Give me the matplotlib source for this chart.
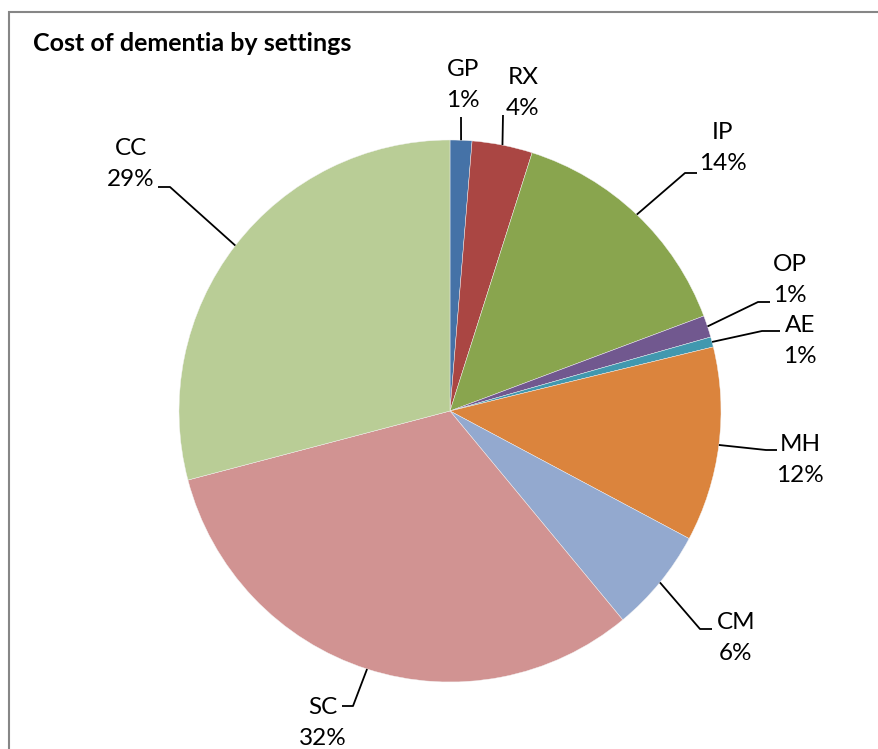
import matplotlib
matplotlib.use("Agg")
import matplotlib.pyplot as plt
import numpy as np
from matplotlib.patches import Rectangle

plt.rcParams['font.family'] = ['Lato', 'DejaVu Sans']

# ---- data ----
categories = ["GP", "RX", "IP", "OP", "AE", "MH", "CM", "SC", "CC"]
shares = [1.3, 3.6, 14.4, 1.3, 0.6, 11.6, 6.2, 31.9, 29.1]
colors = ["#4572A7", "#AA4643", "#89A54E", "#71588F", "#4198AF",
          "#DB843D", "#93A9CF", "#D19392", "#B9CD96"]
title = "Cost of dementia by settings"

# ---- label layout (pixel positions in the 879x749 image; name baselines) ----
name_pos = [(463, 76), (523, 84), (723, 139), (790, 271), (800, 332),
            (800, 451), (736, 629), (323, 714), (131, 155)]
line_gap = 31
elbow_pos = [(461, 117), (503, 115), (685, 173), (758, 302), (762, 331),
             (766, 450), (700, 629), (353, 706), (170, 187)]
tail_pos = [(461, 117), (503, 115), (697, 173), (770, 302), (780, 331),
            (777, 450), (712, 629), (342, 706), (158, 187)]

W, H = 879, 749
CX, CY, R = 450, 411, 271

fig = plt.figure(figsize=(W / 100, H / 100), dpi=100)
ax = fig.add_axes([(CX - R) / W, (H - CY - R) / H, 2 * R / W, 2 * R / H])

wedges, _ = ax.pie(shares, colors=colors, startangle=90, counterclock=False,
                   radius=1.0, wedgeprops=dict(edgecolor='#f4f4f4', linewidth=0.3))
ax.set_xlim(-1, 1)
ax.set_ylim(-1, 1)
ax.set_aspect('equal')
ax.axis('off')


def to_data(p):
    return ((p[0] - CX) / R, (CY - p[1]) / R)


total = sum(shares)
for i, w in enumerate(wedges):
    mid = np.deg2rad((w.theta1 + w.theta2) / 2)
    anchor = (np.cos(mid), np.sin(mid))
    e = to_data(elbow_pos[i])
    t = to_data(tail_pos[i])
    ax.plot([anchor[0], e[0], t[0]], [anchor[1], e[1], t[1]],
            color='black', lw=1.3, clip_on=False, solid_capstyle='butt')
    nx, ny = to_data(name_pos[i])
    px, py = to_data((name_pos[i][0], name_pos[i][1] + line_gap))
    ax.text(nx, ny, categories[i], ha='center', va='baseline', fontsize=17.5,
            color='black', clip_on=False)
    ax.text(px, py, f"{shares[i] / total * 100:.0f}%", ha='center',
            va='baseline', fontsize=17.5, color='black', clip_on=False)

fig.text(33 / W, 1 - 51 / H, title, ha='left', va='baseline', fontsize=18,
         fontweight='bold', color='black')

fig.patches.append(Rectangle((9 / W, -0.05), 1.05, 1 - 12 / H + 0.05,
                             transform=fig.transFigure, fill=False,
                             edgecolor='#868686', linewidth=1.5))

fig.savefig("out.png", dpi=100, facecolor='white')
